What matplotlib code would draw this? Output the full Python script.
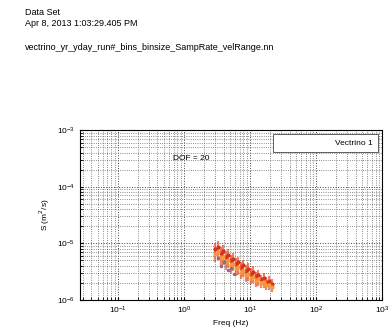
import matplotlib.pyplot as plt

plt.rcParams['font.family'] = ['Liberation Sans', 'DejaVu Sans']

# spectral estimates, Vectrino 1
freq = [3.0, 3.3, 3.6, 3.9, 4.3, 4.7, 5.1, 5.6, 6.1, 6.7, 7.3, 8.0,
        8.7, 9.5, 10.4, 11.3, 12.4, 13.5, 14.7, 16.1, 17.6, 19.2, 21.5]
s_hi = [1.0e-5, 1.1e-5, 8.6e-6, 9.2e-6, 7.4e-6, 7.8e-6, 6.3e-6, 6.7e-6,
        5.4e-6, 5.8e-6, 4.7e-6, 5.1e-6, 4.1e-6, 4.4e-6, 3.6e-6, 3.9e-6,
        3.1e-6, 3.4e-6, 2.8e-6, 3.0e-6, 2.5e-6, 2.6e-6, 2.3e-6]
s_red = [8.0e-6, 8.6e-6, 6.8e-6, 7.2e-6, 5.8e-6, 6.2e-6, 5.0e-6, 5.3e-6,
         4.3e-6, 4.6e-6, 3.8e-6, 4.1e-6, 3.3e-6, 3.5e-6, 2.9e-6, 3.1e-6,
         2.6e-6, 2.7e-6, 2.3e-6, 2.4e-6, 2.1e-6, 2.15e-6, 1.9e-6]
s_orange = [6.4e-6, 6.9e-6, 5.5e-6, 5.8e-6, 4.7e-6, 5.0e-6, 4.1e-6, 4.3e-6,
            3.6e-6, 3.8e-6, 3.1e-6, 3.3e-6, 2.8e-6, 2.9e-6, 2.4e-6, 2.5e-6,
            2.2e-6, 2.3e-6, 2.0e-6, 2.05e-6, 1.8e-6, 1.85e-6, 1.7e-6]
s_lo = [4.6e-6, 5.0e-6, 4.0e-6, 4.2e-6, 3.4e-6, 3.6e-6, 3.0e-6, 3.2e-6,
        2.6e-6, 2.8e-6, 2.3e-6, 2.5e-6, 2.1e-6, 2.2e-6, 1.9e-6, 1.95e-6,
        1.7e-6, 1.75e-6, 1.6e-6, 1.6e-6, 1.5e-6, 1.5e-6, 1.4e-6]
freq_p = [3.3, 3.7, 4.1, 4.6, 5.2, 5.8]
s_p = [5.5e-6, 4.0e-6, 4.6e-6, 3.4e-6, 3.7e-6, 2.9e-6]

xticks = [1e-1, 1e0, 1e1, 1e2, 1e3]
yticks = [1e-6, 1e-5, 1e-4, 1e-3]


def main():
    fig = plt.figure(figsize=(3.89, 3.31), dpi=100)
    fig.text(0.064, 0.961, 'Data Set', fontsize=6.5, va='center')
    fig.text(0.064, 0.93, 'Apr 8, 2013 1:03:29.405 PM', fontsize=6.5, va='center')
    fig.text(0.064, 0.858, 'vectrino_yr_yday_run#_bins_binsize_SampRate_velRange.nn',
             fontsize=6.5, va='center')

    ax = fig.add_axes([0.206, 0.094, 0.776, 0.513])
    ax.vlines(freq, s_lo, s_hi, colors='#e8502a', lw=1.6, alpha=0.7)
    ax.loglog(freq, s_red, '.', color='#d8301c', ms=4, label='Vectrino 1')
    ax.loglog(freq, s_orange, '.', color='#f59a3a', ms=4)
    ax.loglog(freq_p, s_p, '.', color='#8a6a8a', ms=3)

    ax.set_xlim(0.027, 1000)
    ax.set_ylim(1e-6, 1e-3)
    ax.set_xticks(xticks)
    ax.set_yticks(yticks)
    ax.grid(True, which='major', ls=':', color='#444444', lw=0.7)
    ax.grid(True, which='minor', ls=':', color='#666666', lw=0.6)
    ax.tick_params(which='both', labelsize=6, direction='in', length=2)
    ax.set_xlabel('Freq (Hz)', fontsize=6, labelpad=3)
    ax.set_ylabel('S (m$^2$/s)', fontsize=6, labelpad=4)
    ax.text(0.68, 3.2e-4, 'DOF = 20', fontsize=6, va='center')

    leg = ax.legend(loc='upper right', fontsize=6, fancybox=False, edgecolor='#444444',
                    handlelength=6, borderpad=0.6, borderaxespad=0.5, framealpha=1)
    leg.legend_handles[0].set_visible(False)
    leg.get_frame().set_linewidth(0.6)

    fig.savefig('out.png', dpi=100)


if __name__ == '__main__':
    main()
